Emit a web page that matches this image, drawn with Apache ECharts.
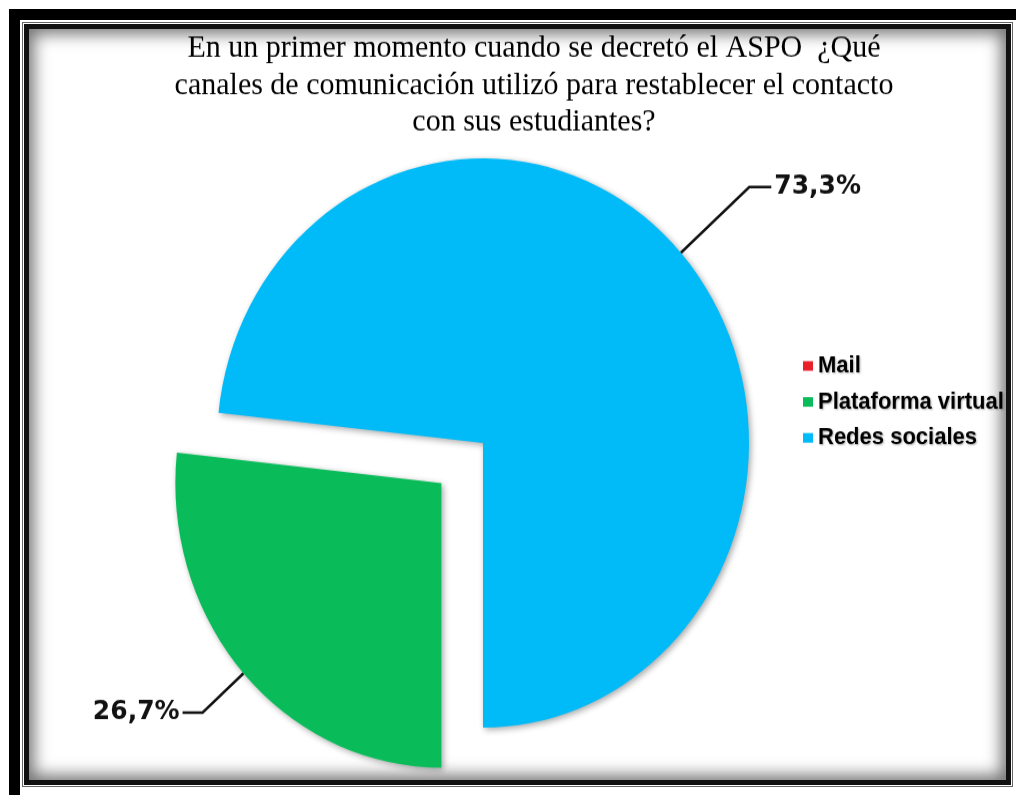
<!DOCTYPE html>
<html lang="es">
<head>
<meta charset="UTF-8">
<title>Canales de comunicación</title>
<script src="https://cdn.jsdelivr.net/npm/echarts@6/dist/echarts.min.js"></script>
<style>
  html, body { margin: 0; padding: 0; background: #fff; width: 1016px; height: 795px; overflow: hidden; }
  #outer { position: absolute; left: 9px; top: 9px; width: 1030px; height: 800px; border: 11px solid #000; box-sizing: border-box; }
  #inner { position: absolute; left: 22px; top: 22px; width: 991px; height: 765px; border: 1px solid #666; box-sizing: border-box; }
  #inner2 { position: absolute; left: 1px; top: 1px; right: 1px; bottom: 1px; border: 5px solid #111; box-shadow: inset 0 0 16px 5px rgba(0,0,0,0.55); }
  /* el gráfico original es un poco más alto que ancho: se estira en vertical */
  #main { position: absolute; left: 0; top: 0; width: 1016px; height: 743px; transform: scaleY(1.07); transform-origin: 0 0; }
</style>
</head>
<body>
<div id="outer"></div>
<div id="inner"><div id="inner2"></div></div>
<div id="main"></div>
<script>
  // datos
  const categories = ['Mail', 'Plataforma virtual', 'Redes sociales'];
  const values = [0, 26.7, 73.3];
  const colors = ['#E8202A', '#09BC59', '#00BBF8'];
  const titleText = 'En un primer momento cuando se decretó el ASPO  ¿Qué\ncanales de comunicación utilizó para restablecer el contacto\ncon sus estudiantes?';

  let pieData = categories.map((name, i) => {
    let item = { name: name, value: values[i], itemStyle: { color: colors[i] } };
    if (values[i] === 0) {
      item.label = { show: false };
      item.labelLine = { show: false };
    }
    if (name === 'Plataforma virtual') {
      item.selected = true;
      item.labelLine = { length: 55, length2: 20 };
    }
    return item;
  });

  let myChart = echarts.init(document.getElementById('main'));
  let option = {
    animation: false,
    backgroundColor: 'transparent',
    color: colors,
    title: {
      text: titleText,
      left: 534,
      top: 28,
      padding: 0,
      textAlign: 'center',
      textStyle: {
        fontFamily: 'Liberation Serif',
        fontWeight: 'normal',
        fontSize: 30,
        lineHeight: 34.6,
        color: '#000'
      }
    },
    legend: {
      orient: 'vertical',
      left: 798,
      top: 326,
      itemGap: 11.6,
      itemWidth: 10,
      itemHeight: 9,
      icon: 'rect',
      data: categories,
      textStyle: {
        fontFamily: 'Liberation Sans',
        fontWeight: 'bold',
        fontSize: 22,
        lineHeight: 22,
        color: '#000',
        textShadowColor: 'rgba(0,0,0,0.3)',
        textShadowBlur: 2,
        textShadowOffsetX: 1,
        textShadowOffsetY: 1
      }
    },
    series: [{
      type: 'pie',
      center: [483, 414],
      radius: 266,
      startAngle: 270,
      clockwise: true,
      selectedMode: 'single',
      selectedOffset: 56,
      avoidLabelOverlap: false,
      emphasis: { disabled: true },
      itemStyle: {
        shadowBlur: 6,
        shadowColor: 'rgba(0,0,0,0.35)',
        shadowOffsetX: 2,
        shadowOffsetY: 2
      },
      label: {
        show: true,
        position: 'outside',
        formatter: p => p.value.toFixed(1).replace('.', ',') + '%',
        fontFamily: 'DejaVu Sans',
        fontWeight: 'bold',
        fontSize: 25,
        color: '#111',
        distanceToLabelLine: 3
      },
      labelLine: {
        show: true,
        length: 92,
        length2: 22,
        lineStyle: { color: '#111', width: 2.5 }
      },
      data: pieData
    }]
  };
  myChart.setOption(option);
</script>
</body>
</html>
